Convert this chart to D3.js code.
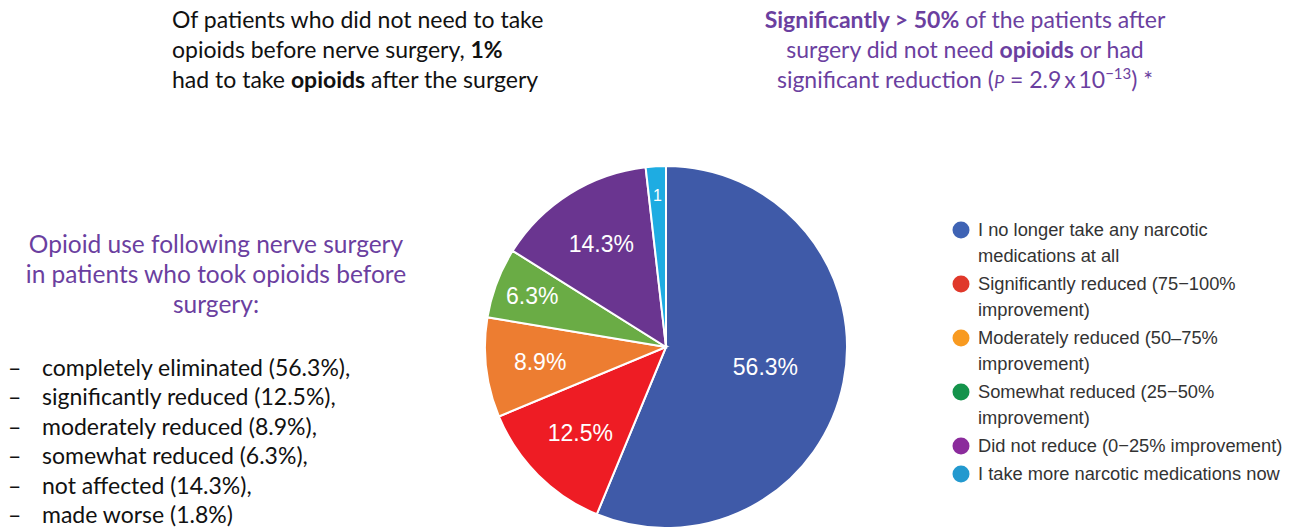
<!DOCTYPE html>
<html>
<head>
<meta charset="utf-8">
<script src="https://cdn.jsdelivr.net/npm/d3@7"></script>
<style>
  body { margin: 0; background: #fff; }
  svg { display: block; }
</style>
</head>
<body>
<div id="chart-area"></div>
<script>
// data
let categories = [
  "I no longer take any narcotic medications at all",
  "Significantly reduced (75\u2212100% improvement)",
  "Moderately reduced (50\u201375% improvement)",
  "Somewhat reduced (25\u221250% improvement)",
  "Did not reduce (0\u221225% improvement)",
  "I take more narcotic medications now"
];
let values = [56.3, 12.5, 8.9, 6.3, 14.3, 1.8];
let sliceLabels = ["56.3%", "12.5%", "8.9%", "6.3%", "14.3%", "1"];
let legendLines = [
  ["I no longer take any narcotic", "medications at all"],
  ["Significantly reduced (75\u2212100%", "improvement)"],
  ["Moderately reduced (50\u201375%", "improvement)"],
  ["Somewhat reduced (25\u221250%", "improvement)"],
  ["Did not reduce (0\u221225% improvement)"],
  ["I take more narcotic medications now"]
];
let bulletItems = [
  "completely eliminated (56.3%),",
  "significantly reduced (12.5%),",
  "moderately reduced (8.9%),",
  "somewhat reduced (6.3%),",
  "not affected (14.3%),",
  "made worse (1.8%)"
];

let sliceColors = ["#3f5aa8", "#ee1c24", "#ed7d31", "#6aac45", "#6a3590", "#1eace2"];
let dotColors = ["#3f63b4", "#e0382a", "#f89a20", "#14934b", "#8b2b9c", "#2399cf"];

let width = 1289, height = 527;
let purple = "#6b3fa0";
let bodyFont = "Lato, 'Open Sans', sans-serif";
let chartFont = "'Liberation Sans', Arial, sans-serif";

let svg = d3.select("#chart-area").append("svg")
    .attr("width", width)
    .attr("height", height);

// top-left note
let note = svg.append("text")
    .attr("font-family", bodyFont)
    .attr("font-size", 23)
    .attr("fill", "#111");
let n1 = note.append("tspan").attr("x", 172).attr("y", 28);
n1.text("Of patients who did not need to take");
let n2 = note.append("tspan").attr("x", 172).attr("y", 58);
n2.append("tspan").text("opioids before nerve surgery, ");
n2.append("tspan").attr("font-weight", "bold").text("1%");
let n3 = note.append("tspan").attr("x", 172).attr("y", 88);
n3.append("tspan").text("had to take ");
n3.append("tspan").attr("font-weight", "bold").text("opioids");
n3.append("tspan").text(" after the surgery");

// top-right note
let sig = svg.append("text")
    .attr("font-family", bodyFont)
    .attr("font-size", 23)
    .attr("fill", purple)
    .attr("text-anchor", "middle");
let s1 = sig.append("tspan").attr("x", 965).attr("y", 28);
s1.append("tspan").attr("font-weight", "bold").text("Significantly > 50%");
s1.append("tspan").text(" of the patients after");
let s2 = sig.append("tspan").attr("x", 965).attr("y", 58);
s2.append("tspan").text("surgery did not need ");
s2.append("tspan").attr("font-weight", "bold").text("opioids");
s2.append("tspan").text(" or had");
let s3 = sig.append("tspan").attr("x", 965).attr("y", 88);
s3.append("tspan").text("significant reduction (");
s3.append("tspan").attr("font-style", "italic").attr("font-size", 18).text("P");
s3.append("tspan").text(" = 2.9\u2009x\u200910");
s3.append("tspan").attr("font-size", 15).attr("dy", -9).text("\u221213");
s3.append("tspan").attr("dy", 9).text(") *");

// left heading
let head = svg.append("text")
    .attr("font-family", bodyFont)
    .attr("font-size", 24.5)
    .attr("fill", purple)
    .attr("text-anchor", "middle");
["Opioid use following nerve surgery", "in patients who took opioids before", "surgery:"]
  .forEach(function(t, i) {
    head.append("tspan").attr("x", 216).attr("y", 253 + i * 30).text(t);
  });

// bullets
let bullets = svg.append("g")
    .attr("font-family", bodyFont)
    .attr("font-size", 23)
    .attr("fill", "#111");
bulletItems.forEach(function(t, i) {
  let yy = 376 + i * 29.4;
  bullets.append("text").attr("x", 8).attr("y", yy).text("\u2013");
  bullets.append("text").attr("x", 42).attr("y", yy).text(t);
});

// pie
let cx = 666, cy = 347, r = 181;
let pie = d3.pie().sort(null).value(d => d)(values);
let arc = d3.arc().innerRadius(0).outerRadius(r);
let labelRadius = [0.56, 0.67, 0.7, 0.79, 0.67, 0.84];

let pg = svg.append("g").attr("transform", "translate(" + cx + "," + cy + ")");
pg.selectAll("path")
  .data(pie)
  .enter().append("path")
    .attr("d", arc)
    .attr("fill", (d, i) => sliceColors[i])
    .attr("stroke", "#fff")
    .attr("stroke-width", 2);

pg.selectAll(".lbl")
  .data(pie)
  .enter().append("text")
    .attr("class", "lbl")
    .attr("transform", function(d, i) {
      let a = d3.arc().innerRadius(0).outerRadius(2 * r * labelRadius[i]);
      return "translate(" + a.centroid(d) + ")";
    })
    .attr("text-anchor", "middle")
    .attr("dy", "0.35em")
    .attr("font-family", chartFont)
    .attr("font-size", (d, i) => i == 5 ? 16 : 23)
    .attr("fill", "#fff")
    .text((d, i) => sliceLabels[i]);

// legend
let lg = svg.append("g")
    .attr("font-family", chartFont)
    .attr("font-size", 18.3)
    .attr("fill", "#333");
let rowY = [230, 284, 338, 392, 446, 474];
categories.forEach(function(c, i) {
  lg.append("circle")
    .attr("cx", 961).attr("cy", rowY[i]).attr("r", 8.5)
    .attr("fill", dotColors[i]);
  legendLines[i].forEach(function(t, j) {
    lg.append("text")
      .attr("x", 978).attr("y", rowY[i] + j * 26)
      .attr("dy", "0.35em")
      .text(t);
  });
});
</script>
</body>
</html>
